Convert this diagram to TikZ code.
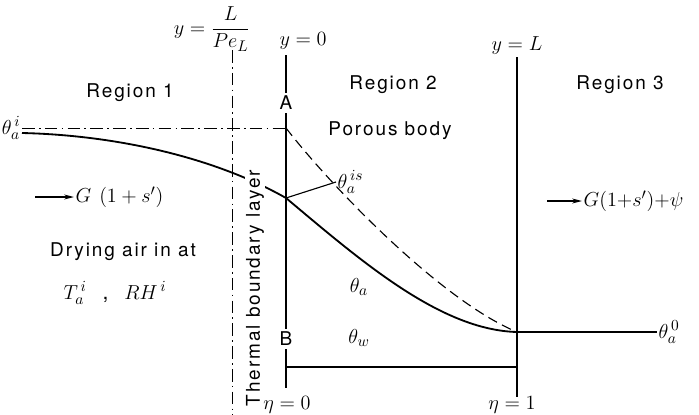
\documentclass[tikz,border=0pt]{standalone}
\usepackage{amsmath}
\usepackage{fontspec}
\setmainfont{TeX Gyre Heros}[LetterSpace=10]
\usetikzlibrary{arrows.meta,positioning}

\begin{document}
\begin{tikzpicture}[x=0.025cm, y=-0.025cm, font=\fontsize{13.5}{16}\selectfont,
    wall/.style={line width=0.8pt},
    dashdot/.style={line width=0.7pt, dash pattern=on 9pt off 3pt on 1.2pt off 3pt},
    profile/.style={line width=1.3pt},
    mathlbl/.style={font=\fontsize{15}{18}\selectfont},
    flow/.style={line width=0.9pt, -{Stealth[length=7pt,width=3.5pt]}}]
    \useasboundingbox (0,0) rectangle (699,415);

    % region boundaries
    \coordinate (bl top) at (232,50);
    \coordinate (bl bot) at (232,415);
    \draw[dashdot] (bl top) -- (bl bot);
    \node[inner sep=2pt] (A) at (286,103) {A};
    \node[inner sep=2pt] (B) at (286,339) {B};
    \coordinate (w0 top) at (286,55);
    \coordinate (w0 bot) at (286,388);
    \draw[wall] (w0 top) -- (A.north);
    \draw[wall] (A.south) -- (B.north);
    \draw[wall] (B.south) -- (w0 bot);
    \coordinate (w1 top) at (517,57);
    \coordinate (w1 bot) at (517,397);
    \draw[wall] (w1 top) -- (w1 bot);
    \coordinate (B foot) at (286,367);
    \coordinate (L foot) at (517,367);
    \draw[wall] (B foot) -- (L foot);

    % temperature profiles
    \coordinate (inlet) at (22,133);
    \coordinate (inlet top) at (22,128);
    \coordinate (corner) at (286,128);
    \coordinate (surf) at (286,198);
    \coordinate (exit) at (517,332);
    \coordinate (out end) at (657,332);
    \draw[dashdot] (inlet top) -- (corner);
    \draw[profile] (inlet) .. controls (110,135) and (210,155) .. (surf);
    \draw[profile] (surf) .. controls (360,260) and (440,330) .. (exit);
    \draw[profile] (exit) -- (out end);
    \draw[wall, dashed, dash pattern=on 7pt off 4pt] (corner) .. controls (330,185) and (440,300) .. (exit);

    % labels
    \node[fill=white, inner sep=1pt, rotate=90] (bl text) at (255,288) {Thermal boundary layer};
    \node[mathlbl, anchor=east, inner sep=1pt] (th in) at (inlet top) {$\theta_a^{\,i}$};
    \node[mathlbl, anchor=west, inner sep=1pt] (th out) at (out end) {$\theta_a^{\,0}$};
    \node[mathlbl, anchor=west, inner sep=1pt] (th is) at (336,182) {$\theta_a^{\,is}$};
    \draw[wall] (surf) -- (th is.west);
    \node[mathlbl] (th a) at (359,287) {$\theta_a$};
    \node[mathlbl] (th w) at (359,338) {$\theta_w$};

    \node[mathlbl] (lab pe) at (212,29) {$y=\displaystyle\frac{L}{Pe_L}$};
    \node[mathlbl] (lab y0) at (303,41) {$y=0$};
    \node[mathlbl] (lab yL) at (517,46) {$y=L$};
    \node[mathlbl] (lab e0) at (287,405) {$\eta=0$};
    \node[mathlbl] (lab e1) at (512,405) {$\eta=1$};

    \node (reg1) at (130,93) {Region 1};
    \node (reg2) at (393,85) {Region 2};
    \node (reg3) at (620,85) {Region 3};
    \node (porous) at (390,131) {Porous body};

    \coordinate (in tail) at (35,197);
    \node[mathlbl, anchor=west, inner sep=1pt] (g in) at (74,197) {$G\ (1+s')$};
    \draw[flow] (in tail) -- (g in.west);
    \coordinate (out tail) at (547,201);
    \node[mathlbl, anchor=west, inner sep=1pt] (g out) at (582,201) {$G(1{+}s'){+}\psi$};
    \draw[flow] (out tail) -- (g out.west);

    \node (dry) at (123,252) {Drying air in at};
    \node[mathlbl] (cond) at (115,293) {$T_a^{\,i}$\ \ ,\ \ $RH^{\,i}$};
\end{tikzpicture}
\end{document}
